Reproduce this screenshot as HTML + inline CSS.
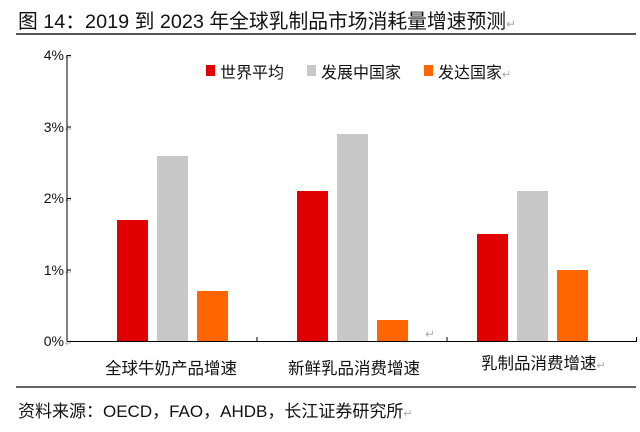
<!DOCTYPE html>
<html><head><meta charset="utf-8"><style>
body{margin:0;background:#fff;}
svg text{font-family:"Liberation Sans","Noto Sans CJK SC",sans-serif;}
</style></head><body>
<svg width="640" height="427" xmlns="http://www.w3.org/2000/svg">
<text x="18" y="28" font-size="19.8" fill="#111">图 14：2019 到 2023 年全球乳制品市场消耗量增速预测<tspan fill="#aaa" font-size="12">↵</tspan></text>
<rect x="16" y="33" width="620" height="2" fill="#555"/>
<g font-size="14" fill="#111" text-anchor="end">
<text x="64" y="60">4%</text><text x="64" y="132">3%</text><text x="64" y="203">2%</text><text x="64" y="275">1%</text><text x="64" y="346">0%</text>
</g>
<g font-size="9" fill="#aaa"><text x="65" y="60">↵</text><text x="65" y="132">↵</text><text x="65" y="203">↵</text><text x="65" y="275">↵</text><text x="65" y="346">↵</text></g>
<line x1="67" y1="55" x2="67" y2="341" stroke="#000" stroke-width="1"/>
<g stroke="#000"><line x1="67" y1="55.5" x2="71" y2="55.5"/><line x1="67" y1="127" x2="71" y2="127"/><line x1="67" y1="198.5" x2="71" y2="198.5"/><line x1="67" y1="270" x2="71" y2="270"/></g>
<line x1="67" y1="341.5" x2="637" y2="341.5" stroke="#000"/>
<g stroke="#000"><line x1="257" y1="337" x2="257" y2="341"/><line x1="447" y1="337" x2="447" y2="341"/><line x1="636.5" y1="337" x2="636.5" y2="341"/></g>
<g>
<rect x="117" y="220" width="31" height="121" fill="#e00000"/>
<rect x="157" y="156" width="31" height="185" fill="#c8c8c8"/>
<rect x="197" y="291" width="31" height="50" fill="#ff6600"/>
<rect x="297" y="191" width="31" height="150" fill="#e00000"/>
<rect x="337" y="134" width="31" height="207" fill="#c8c8c8"/>
<rect x="377" y="320" width="31" height="21" fill="#ff6600"/>
<rect x="477" y="234" width="31" height="107" fill="#e00000"/>
<rect x="517" y="191" width="31" height="150" fill="#c8c8c8"/>
<rect x="557" y="270" width="31" height="71" fill="#ff6600"/>
</g>
<text x="425" y="338" font-size="12" fill="#aaa">↵</text>
<g font-size="16" fill="#111">
<rect x="206" y="65" width="9" height="11" fill="#e00000"/><text x="220" y="78">世界平均</text>
<rect x="307" y="65" width="9" height="11" fill="#c8c8c8"/><text x="321" y="78">发展中国家</text>
<rect x="424" y="65" width="9" height="11" fill="#ff6600"/><text x="438" y="78">发达国家<tspan fill="#aaa" font-size="11">↵</tspan></text>
</g>
<g font-size="16.5" fill="#111">
<text x="105" y="374">全球牛奶产品增速</text>
<text x="288" y="374">新鲜乳品消费增速</text>
<text x="481" y="369">乳制品消费增速<tspan fill="#aaa" font-size="11">↵</tspan></text>
</g>
<rect x="16" y="386" width="620" height="2" fill="#666"/>
<text x="18" y="417" font-size="17" fill="#111">资料来源：OECD，FAO，AHDB，长江证券研究所<tspan fill="#aaa" font-size="11">↵</tspan></text>
</svg>
</body></html>
